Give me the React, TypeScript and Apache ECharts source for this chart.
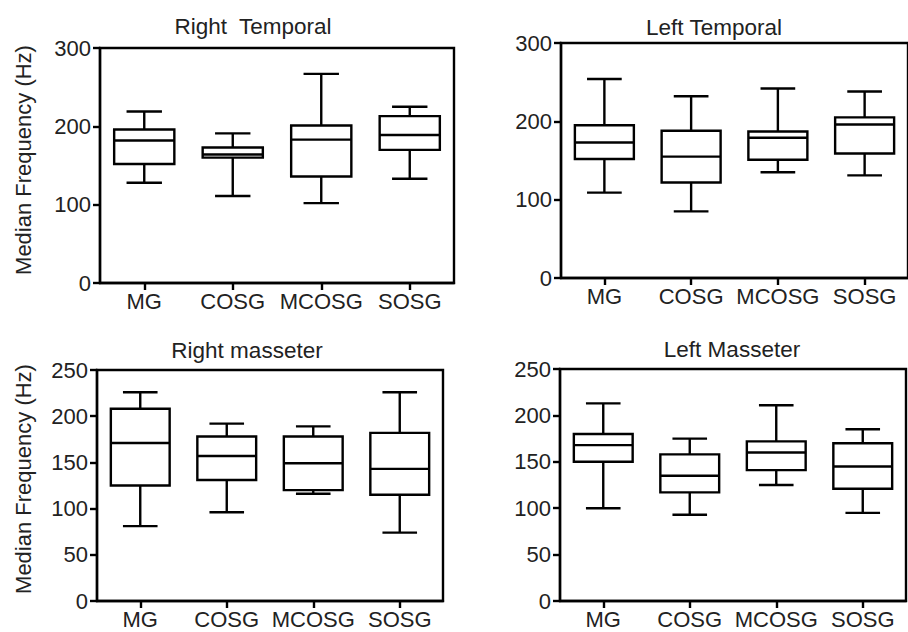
import React, { useEffect, useRef } from "react";
import * as echarts from "echarts";

const categories = ["MG", "COSG", "MCOSG", "SOSG"];

// [min, Q1, median, Q3, max]
const rightTemporal = [
  [128, 152, 182, 196, 219],
  [111, 160, 164, 173, 191],
  [102, 136, 183, 201, 267],
  [133, 170, 189, 213, 225],
];
const leftTemporal = [
  [109, 152, 173, 195, 254],
  [85, 122, 155, 188, 232],
  [135, 151, 179, 187, 242],
  [131, 159, 196, 205, 238],
];
const rightMasseter = [
  [81, 125, 171, 208, 226],
  [96, 131, 157, 178, 192],
  [116, 120, 149, 178, 189],
  [74, 115, 143, 182, 226],
];
const leftMasseter = [
  [100, 150, 168, 180, 213],
  [93, 117, 135, 158, 175],
  [125, 141, 160, 172, 211],
  [95, 121, 145, 170, 185],
];

const titles = ["Right  Temporal", "Left Temporal", "Right masseter", "Left Masseter"];
const yAxisTitle = "Median Frequency (Hz)";
const topTicks = { min: 0, max: 300, interval: 100 };
const bottomTicks = { min: 0, max: 250, interval: 50 };

const FONT = "'Liberation Sans', Arial, Helvetica, sans-serif";
const TEXT = "#222";

export default function App() {
  const ref = useRef<HTMLDivElement>(null);

  useEffect(() => {
    document.body.style.margin = "0";
    if (!ref.current) return;
    const chart = echarts.init(ref.current, undefined, { renderer: "svg" });

    const grids = [
      { left: 100, top: 48, width: 354, height: 235 },
      { left: 561, top: 43, width: 352, height: 235 },
      { left: 97, top: 370, width: 346, height: 231 },
      { left: 560, top: 369, width: 346, height: 232 },
    ];
    const datasets = [rightTemporal, leftTemporal, rightMasseter, leftMasseter];
    const yRanges = [topTicks, topTicks, bottomTicks, bottomTicks];

    const renderItem = (params: any, api: any) => {
      const x = api.value(0);
      const lo = api.coord([x, api.value(1)]);
      const q1 = api.coord([x, api.value(2)]);
      const md = api.coord([x, api.value(3)]);
      const q3 = api.coord([x, api.value(4)]);
      const hi = api.coord([x, api.value(5)]);
      const band = api.size([1, 0])[0];
      const bw = band * 0.68;
      const cw = band * 0.4;
      const cx = md[0];
      const style = { stroke: "#000", lineWidth: 2.4, fill: null };
      return {
        type: "group",
        children: [
          { type: "line", shape: { x1: cx, y1: hi[1], x2: cx, y2: q3[1] }, style },
          { type: "line", shape: { x1: cx - cw / 2, y1: hi[1], x2: cx + cw / 2, y2: hi[1] }, style },
          { type: "line", shape: { x1: cx, y1: q1[1], x2: cx, y2: lo[1] }, style },
          { type: "line", shape: { x1: cx - cw / 2, y1: lo[1], x2: cx + cw / 2, y2: lo[1] }, style },
          {
            type: "rect",
            shape: { x: cx - bw / 2, y: q3[1], width: bw, height: q1[1] - q3[1] },
            style: { stroke: "#000", lineWidth: 2.4, fill: "transparent" },
          },
          { type: "line", shape: { x1: cx - bw / 2, y1: md[1], x2: cx + bw / 2, y2: md[1] }, style },
        ],
      };
    };

    const option: any = {
      animation: false,
      backgroundColor: "#fff",
      textStyle: { fontFamily: FONT },
      grid: grids.map((g) => ({
        ...g,
        show: true,
        borderColor: "#000",
        borderWidth: 2.4,
        backgroundColor: "transparent",
        containLabel: false,
      })),
      xAxis: grids.map((_, i) => ({
        type: "category",
        gridIndex: i,
        data: categories,
        boundaryGap: true,
        axisLine: { show: true, lineStyle: { color: "#000", width: 2.4 } },
        axisTick: { show: true, alignWithLabel: true, length: 7, lineStyle: { color: "#000", width: 2.4 } },
        axisLabel: { color: TEXT, fontSize: 22, fontFamily: FONT, margin: 7, interval: 0, hideOverlap: false },
        splitLine: { show: false },
      })),
      yAxis: grids.map((_, i) => ({
        type: "value",
        gridIndex: i,
        min: yRanges[i].min,
        max: yRanges[i].max,
        interval: yRanges[i].interval,
        axisLine: { show: true, lineStyle: { color: "#000", width: 2.4 } },
        axisTick: { show: true, length: 7, lineStyle: { color: "#000", width: 2.4 } },
        axisLabel: { color: TEXT, fontSize: 22, fontFamily: FONT, margin: 9 },
        splitLine: { show: false },
      })),
      series: datasets.map((d, i) => ({
        type: "custom",
        xAxisIndex: i,
        yAxisIndex: i,
        renderItem,
        encode: { x: 0, y: [1, 2, 3, 4, 5] },
        data: d.map((v, k) => [k, ...v]),
        clip: false,
      })),
      graphic: [
        { x: 253, y: 26, t: titles[0] },
        { x: 714, y: 27, t: titles[1] },
        { x: 247, y: 350, t: titles[2] },
        { x: 732, y: 349, t: titles[3] },
      ]
        .map((p) => ({
          type: "text",
          x: p.x,
          y: p.y,
          style: {
            text: p.t,
            fill: TEXT,
            font: `22.5px ${FONT}`,
            align: "center",
            verticalAlign: "middle",
          },
        }))
        .concat(
          [
            { x: 23, y: 160 },
            { x: 23, y: 479 },
          ].map((p) => ({
            type: "text",
            x: p.x,
            y: p.y,
            rotation: Math.PI / 2,
            style: {
              text: yAxisTitle,
              fill: TEXT,
              font: `22px ${FONT}`,
              align: "center",
              verticalAlign: "middle",
            },
          })) as any
        ),
    };

    chart.setOption(option);
    return () => chart.dispose();
  }, []);

  return <div ref={ref} style={{ width: 908, height: 632 }} />;
}
